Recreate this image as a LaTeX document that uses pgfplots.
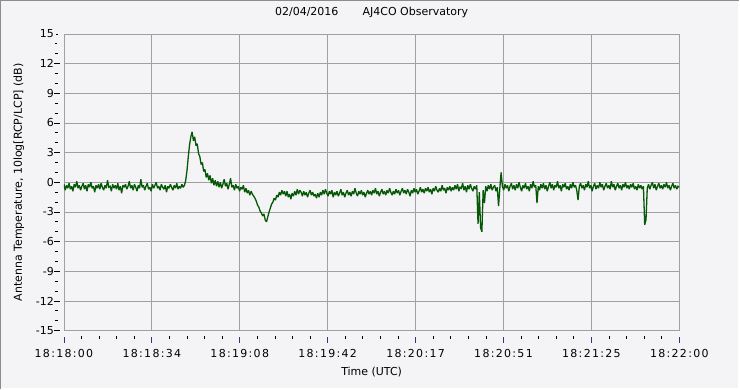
\documentclass[border=0pt]{standalone}
\usepackage{pgfplots}
\pgfplotsset{compat=1.18}
\usepackage{fontspec}
\setmainfont{DejaVu Sans}
\newfontfamily\tickfont[LetterSpace=12]{DejaVu Sans}
\definecolor{winbg}{RGB}{244,244,246}
\definecolor{gridc}{RGB}{160,160,160}
\definecolor{trace}{RGB}{5,88,5}
\definecolor{tickblue}{RGB}{40,60,100}
\begin{document}
\begin{tikzpicture}[x=1pt,y=1pt]
\fill[winbg] (0,0) rectangle (740,389);
\draw[line width=1.5pt, color={rgb,255:red,140;green,140;blue,140}] (0.75,0) -- (0.75,388.25) -- (740,388.25);
\draw[line width=1pt, color=white] (1.5,0.5) -- (739.5,0.5) -- (739.5,387.5);
\useasboundingbox (0,0) rectangle (740,389);
\begin{axis}[
  at={(64pt,58pt)}, anchor=south west,
  width=616pt, height=297pt, scale only axis,
  xmin=0, xmax=240, ymin=-15, ymax=15,
  axis background/.style={fill=winbg},
  axis line style={draw=gridc, line width=0.8pt},
  grid=major, major grid style={draw=gridc, line width=0.8pt},
  font=\fontsize{11}{13}\selectfont,
  xtick={0,34.2857,68.5714,102.8571,137.1429,171.4286,205.7143,240},
  xticklabels={18:18:00,18:18:34,18:19:08,18:19:42,18:20:17,18:20:51,18:21:25,18:22:00},
  ytick={-15,-12,-9,-6,-3,0,3,6,9,12,15},
  yticklabels={-15,-12,-9,-6,-3,0,3,6,9,12,15},
  minor x tick num=4, minor y tick num=2,
  tick align=inside,
  xtick pos=bottom, ytick pos=left,
  major tick length=6pt, minor tick length=3pt,
  major x tick style={draw=tickblue, line width=0.8pt, yshift=-12pt},
  minor x tick style={draw=black, line width=0.8pt, yshift=-8pt},
  major y tick style={draw=black, line width=0.8pt, xshift=-9.5pt, shorten >=2pt, shorten <=2pt},
  minor y tick style={draw=black, line width=0.8pt, xshift=-9pt, shorten >=0.5pt, shorten <=0.5pt},
  xticklabel style={anchor=center, inner sep=0pt, yshift=-23pt, font=\fontsize{11}{13}\tickfont},
  yticklabel style={anchor=east, inner sep=0pt, xshift=-10pt},
  title={02/04/2016\hspace{2.2em}AJ4CO Observatory},
  title style={at={(axis description cs:0.5,1)}, anchor=center, yshift=16pt, inner sep=0pt},
  xlabel={Time (UTC)},
  xlabel style={at={(axis description cs:0.5,0)}, anchor=center, yshift=-41pt, inner sep=0pt},
  ylabel={Antenna Temperature, 10log[RCP/LCP] (dB)},
  ylabel style={at={(axis description cs:-0.0731,0.5)}, anchor=center, inner sep=0pt},
]
\addplot[trace, line width=1.3pt, no marks, line join=miter, miter limit=2] coordinates {
(0,-0.2)(0.5,-0.8)(1,-0.3)(1.5,-0.6)(2,-0.1)(2.5,-0.7)(3,-0.4)(3.5,-0.9)(4,-0.2)(4.5,-0.5)
(5,0.1)(5.5,-0.6)(6,-0.3)(6.5,-0.8)(7,-0.4)(7.5,-0.1)(8,-0.7)(8.5,-0.3)(9,-0.9)(9.5,-0.2)
(10,-0.5)(10.5,0.0)(11,-0.6)(11.5,-0.4)(12,-1.0)(12.5,-0.3)(13,-0.6)(13.5,-0.2)(14,-0.7)(14.5,-0.1)
(15,-0.5)(15.5,-0.8)(16,-0.3)(16.5,-0.6)(17,0.2)(17.5,-0.5)(18,-0.4)(18.5,-0.9)(19,-0.2)(19.5,-0.6)
(20,-0.3)(20.5,-0.7)(21,-0.1)(21.5,-0.8)(22,-0.4)(22.5,-1.1)(23,-0.3)(23.5,-0.5)(24,-0.2)(24.5,-0.7)
(25,-0.4)(25.5,0.1)(26,-0.6)(26.5,-0.3)(27,-0.8)(27.5,-0.2)(28,-0.5)(28.5,-0.9)(29,-0.3)(29.5,-0.6)
(30,0.3)(30.5,-0.5)(31,-0.3)(31.5,-0.8)(32,-0.4)(32.5,-0.1)(33,-0.7)(33.5,-0.5)(34,-0.9)(34.5,-0.2)
(35,-0.6)(35.5,-0.3)(36,0.0)(36.5,-0.6)(37,-0.4)(37.5,-0.8)(38,-0.2)(38.5,-0.5)(39,-0.7)(39.5,-0.3)
(40,-1.0)(40.5,-0.4)(41,-0.6)(41.5,-0.2)(42,-0.5)(42.5,-0.8)(43,-0.3)(43.5,-0.6)(44,-0.1)(44.5,-0.7)
(45,-0.4)(45.5,-0.6)(46,-0.2)(46.5,-0.5)(47,-0.3)
(47.5,0.2)(48,1.2)(48.5,2.6)(49,3.8)(49.5,4.6)(50,5.1)(50.5,4.2)(51,4.6)(51.5,3.7)(52,3.9)
(52.5,2.9)(53,2.6)(53.5,1.8)(54,2.0)(54.5,1.1)(55,1.3)(55.5,0.5)(56,0.9)(56.5,0.2)(57,0.7)
(57.5,-0.1)(58,0.4)(58.5,-0.3)(59,0.2)(59.5,-0.4)(60,0.1)
(60.5,-0.5)(61,0.0)(61.5,-0.6)(62,-0.2)(62.5,0.3)(63,-0.4)(63.5,-0.1)(64,-0.7)(64.5,-0.2)(65,0.4)
(65.5,-0.5)(66,-0.3)(66.5,-0.8)(67,-0.2)(67.5,-0.6)(68,-0.4)(68.5,-0.9)(69,-0.5)(69.5,-0.7)(70,-0.3)
(70.5,-1.0)(71,-0.6)(71.5,-1.1)(72,-0.8)(72.5,-1.3)(73,-0.9)(73.5,-1.2)(74,-1.4)
(74.5,-1.6)(75,-1.9)(75.5,-2.3)(76,-2.5)(76.5,-2.9)(77,-3.1)(77.5,-3.4)(78,-3.2)(78.5,-3.8)(79,-4.0)
(79.5,-3.5)(80,-3.0)(80.5,-2.6)(81,-2.2)(81.5,-2.0)(82,-1.6)(82.5,-1.8)(83,-1.3)(83.5,-1.5)(84,-1.0)
(84.5,-1.3)(85,-0.8)(85.5,-1.2)(86,-0.9)
(86.5,-1.4)(87,-0.9)(87.5,-1.5)(88,-1.2)(88.5,-1.7)(89,-1.1)(89.5,-1.4)(90,-0.9)(90.5,-1.3)(91,-0.7)
(91.5,-1.2)(92,-0.8)(92.5,-1.0)(93,-1.4)(93.5,-0.9)(94,-1.3)(94.5,-1.0)(95,-1.5)(95.5,-1.1)(96,-0.8)
(96.5,-1.3)(97,-1.0)(97.5,-1.4)(98,-1.2)(98.5,-1.6)(99,-1.1)(99.5,-1.5)(100,-1.0)(100.5,-1.3)(101,-0.8)
(101.5,-1.2)(102,-0.7)(102.5,-1.1)(103,-1.4)(103.5,-0.9)(104,-1.2)(104.5,-0.8)(105,-1.5)(105.5,-1.0)(106,-1.3)
(106.5,-0.9)(107,-1.4)(107.5,-1.1)(108,-0.7)(108.5,-1.3)(109,-1.0)(109.5,-1.5)(110,-1.1)(110.5,-0.8)(111,-1.3)
(111.5,-1.0)(112,-1.4)(112.5,-0.9)(113,-1.2)(113.5,-0.6)(114,-1.1)(114.5,-1.4)(115,-0.9)(115.5,-1.2)(116,-0.8)
(116.5,-1.3)(117,-1.0)(117.5,-1.5)(118,-1.1)(118.5,-0.8)(119,-1.2)(119.5,-0.9)(120,-1.3)(120.5,-0.8)(121,-1.1)
(121.5,-0.6)(122,-1.2)(122.5,-0.9)(123,-1.4)(123.5,-1.0)(124,-0.7)(124.5,-1.2)(125,-0.9)(125.5,-1.3)(126,-0.8)
(126.5,-1.1)(127,-0.6)(127.5,-1.0)(128,-1.3)(128.5,-0.9)(129,-1.2)(129.5,-0.7)(130,-1.1)(130.5,-0.8)(131,-1.3)
(131.5,-0.9)(132,-0.6)(132.5,-1.1)(133,-0.8)(133.5,-1.2)(134,-0.7)(134.5,-1.0)(135,-1.4)(135.5,-0.8)(136,-1.1)
(136.5,-0.6)(137,-1.0)(137.5,-0.7)(138,-1.2)(138.5,-0.9)(139,-0.5)(139.5,-1.0)(140,-0.7)(140.5,-1.1)(141,-0.6)
(141.5,-0.9)(142,-0.5)(142.5,-1.0)(143,-0.7)(143.5,-1.2)(144,-0.6)(144.5,-0.9)(145,-0.4)(145.5,-0.8)(146,-1.0)
(146.5,-0.6)(147,-0.9)(147.5,-0.3)(148,-0.8)(148.5,-0.6)(149,-1.1)(149.5,-0.5)(150,-0.8)
(150.5,-0.4)(151,-0.9)(151.5,-0.5)(152,-0.8)(152.5,-0.3)(153,-0.7)(153.5,-0.2)(154,-0.9)(154.5,-0.5)(155,-0.6)
(155.5,-0.1)(156,-0.8)(156.5,-0.4)(157,-1.0)(157.5,-0.3)(158,-0.7)(158.5,-0.2)(159,-0.6)(159.5,-0.9)(160,-0.4)
(160.5,-0.7)(161,-0.3)(161.5,-4.2)(162,-1.0)(162.5,-4.6)(163,-5.0)(163.5,-0.8)(164,-2.1)(164.5,-0.4)(165,-0.9)
(165.5,-0.3)(166,-0.7)(166.5,-0.2)(167,-0.8)(167.5,-0.5)(168,-0.3)(168.5,-0.9)(169,-0.5)(169.5,-2.4)(170,-0.6)
(170.5,1.0)(171,-0.4)(171.5,-0.8)(172,-0.2)(172.5,-0.6)(173,-0.3)(173.5,-0.9)(174,-0.4)(174.5,-0.1)(175,-0.7)
(175.5,-0.3)(176,-0.8)(176.5,-0.2)(177,-0.6)(177.5,0.0)(178,-0.5)(178.5,-0.9)(179,-0.3)(179.5,-0.6)(180,-0.1)
(180.5,-0.7)(181,-0.4)(181.5,-0.9)(182,-0.2)(182.5,-0.6)(183,0.1)(183.5,-0.5)(184,-0.3)(184.5,-2.1)(185,-0.4)
(185.5,-0.8)(186,-0.2)(186.5,-0.6)(187,-0.1)(187.5,-0.7)(188,-0.3)(188.5,-0.9)(189,-0.4)(189.5,0.0)(190,-0.6)
(190.5,-0.2)(191,-0.8)(191.5,-0.3)(192,-0.5)(192.5,0.1)(193,-0.6)(193.5,-0.3)(194,-0.9)(194.5,-0.2)(195,-0.5)
(195.5,-0.1)(196,-0.7)(196.5,-0.4)(197,-0.8)(197.5,-0.2)(198,-0.6)(198.5,0.0)(199,-0.5)(199.5,-0.3)(200,-0.8)
(200.5,-1.8)(201,-0.4)(201.5,-0.1)(202,-0.6)(202.5,-0.3)(203,-0.8)(203.5,-0.2)(204,-0.5)(204.5,0.1)(205,-0.6)
(205.5,-0.3)(206,-0.9)(206.5,-0.4)(207,-0.1)(207.5,-0.7)(208,-0.3)(208.5,-0.6)(209,0.0)(209.5,-0.5)(210,-0.2)
(210.5,-0.8)(211,-0.4)(211.5,-0.1)(212,-0.6)(212.5,-0.3)(213,-0.7)(213.5,0.1)(214,-0.5)(214.5,-0.2)(215,-0.8)
(215.5,-0.4)(216,-0.1)(216.5,-0.6)(217,-0.3)(217.5,-0.8)(218,-0.2)(218.5,-0.5)(219,0.0)(219.5,-0.6)(220,-0.3)
(220.5,-0.7)(221,-0.2)(221.5,-0.5)(222,-0.1)(222.5,-0.7)(223,-0.4)(223.5,-0.8)(224,-0.2)(224.5,-0.6)(225,-0.3)
(225.5,-0.7)(226,-0.4)(226.5,-4.3)(227,-3.8)(227.5,-0.6)(228,-0.2)(228.5,-0.7)(229,-0.3)(229.5,0.0)(230,-0.6)
(230.5,-0.2)(231,-0.8)(231.5,-0.4)(232,-0.1)(232.5,-0.6)(233,-0.3)(233.5,-0.7)(234,-0.2)(234.5,-0.5)(235,0.0)
(235.5,-0.6)(236,-0.3)(236.5,-0.8)(237,-0.4)(237.5,-0.1)(238,-0.6)(238.5,-0.3)(239,-0.7)(239.5,-0.4)(240,-0.5)
};
\end{axis}
\end{tikzpicture}
\end{document}
